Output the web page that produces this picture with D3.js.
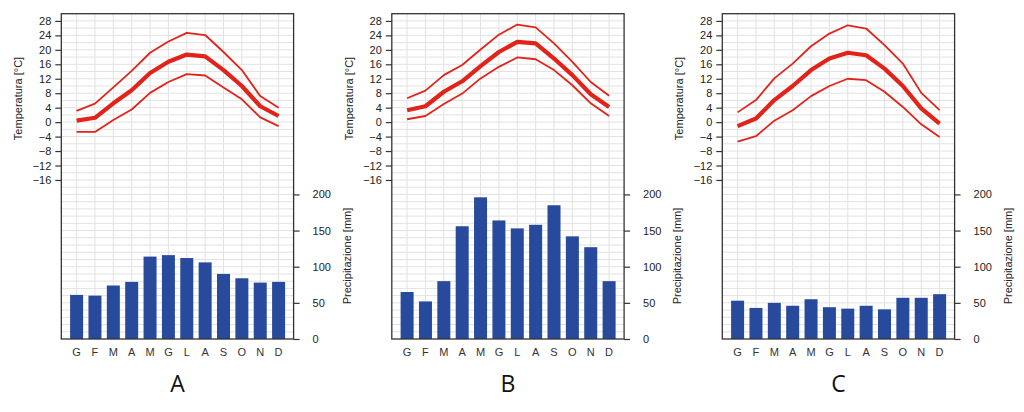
<!DOCTYPE html>
<html><head><meta charset="utf-8">
<script src="https://cdn.jsdelivr.net/npm/d3@7"></script>
<style>body{margin:0;background:#fff}svg{display:block}</style>
</head><body>
<svg id="c" width="1024" height="412"></svg>
<script>
const months = ["G","F","M","A","M","G","L","A","S","O","N","D"];
const panelLabels = ["A","B","C"];
const tempTicks = [-16,-12,-8,-4,0,4,8,12,16,20,24,28];
const precTicks = [0,50,100,150,200];

const tMaxA = [3.1,5.1,9.6,14.2,19.2,22.3,24.7,24.1,19.4,14.4,7.2,4.0];
const tMeanA = [0.4,1.2,5.2,8.8,13.6,16.7,18.7,18.2,14.4,10.0,4.4,1.7];
const tMinA = [-2.7,-2.7,0.6,3.5,8.1,11.1,13.3,12.9,9.6,6.3,1.3,-1.1];
const precA = [61,60,74,79,114,116,112,106,90,84,78,79];

const tMaxB = [6.6,8.7,13.0,15.8,20.1,24.2,27.0,26.2,21.8,16.7,11.1,7.3];
const tMeanB = [3.3,4.4,8.4,11.3,15.5,19.4,22.2,21.8,17.6,13.0,7.7,4.2];
const tMinB = [0.8,1.7,5.0,7.9,12.1,15.3,17.9,17.4,14.4,10.2,5.2,1.7];
const precB = [65,52,80,156,196,164,153,158,185,142,127,80];

const tMaxC = [2.7,6.1,12.1,16.2,21.0,24.5,26.8,25.9,21.3,16.2,8.1,3.3];
const tMeanC = [-1.1,1.0,6.1,10.0,14.4,17.6,19.2,18.5,14.8,10.0,3.8,-0.4];
const tMinC = [-5.4,-3.9,0.4,3.3,7.2,10.0,12.0,11.6,8.4,4.2,-0.6,-4.1];
const precC = [53,43,50,46,55,44,42,46,41,57,57,62];

const panels = [
  {tMax:tMaxA,tMean:tMeanA,tMin:tMinA,prec:precA},
  {tMax:tMaxB,tMean:tMeanB,tMin:tMinB,prec:precB},
  {tMax:tMaxC,tMean:tMeanC,tMin:tMinC,prec:precC}
];

const svg = d3.select("#c");
const font = "'Liberation Sans', Arial, sans-serif";
const yTop = 13.7, yBottom = 339, boxW = 232.3;
const red = "#e2231a", blue = "#274a9c";

panels.forEach((p, i) => {
  const x0 = 61.3 + i * 330.5, x1 = x0 + boxW;
  const g = svg.append("g");
  const x = d3.scalePoint().domain(d3.range(12)).range([x0 + 15.3, x1 - 15]);
  const yT = d3.scaleLinear().domain([-60, 30]).range([yBottom, yTop]);
  const yP = d3.scaleLinear().domain([0, 450]).range([yBottom, yTop]);

  // grid
  const gridVals = d3.range(-58, 30, 2);
  g.selectAll(".hg").data(gridVals).join("line")
    .attr("x1", x0).attr("x2", x1)
    .attr("y1", d => yT(d)).attr("y2", d => yT(d))
    .attr("stroke", "#e2e2e2").attr("stroke-width", 1);
  g.selectAll(".vg").data(d3.range(12)).join("line")
    .attr("x1", d => x(d)).attr("x2", d => x(d))
    .attr("y1", yTop).attr("y2", yBottom)
    .attr("stroke", "#e2e2e2").attr("stroke-width", 1);

  // bars
  const bw = 13;
  g.selectAll(".bar").data(p.prec).join("rect")
    .attr("x", (d, j) => x(j) - bw / 2).attr("width", bw)
    .attr("y", d => yP(d)).attr("height", d => yBottom - yP(d))
    .attr("fill", blue);

  // lines
  const line = d3.line().x((d, j) => x(j)).y(d => yT(d));
  [[p.tMax, 1.8], [p.tMin, 1.8], [p.tMean, 4.2]].forEach(([arr, w]) => {
    g.append("path").datum(arr).attr("d", line)
      .attr("fill", "none").attr("stroke", red)
      .attr("stroke-width", w).attr("stroke-linejoin", "round");
  });

  // box
  g.append("rect").attr("x", x0).attr("y", yTop).attr("width", boxW)
    .attr("height", yBottom - yTop).attr("fill", "none")
    .attr("stroke", "#333").attr("stroke-width", 1.3);

  // left axis (temperature)
  const la = g.append("g").attr("transform", `translate(${x0},0)`)
    .call(d3.axisLeft(yT).tickValues(tempTicks).tickSize(6).tickPadding(4)
      .tickFormat(d => d < 0 ? "\u2212" + Math.abs(d) : d));
  la.select(".domain").remove();
  la.selectAll("line").attr("stroke", "#333").attr("stroke-width", 1.2);
  la.selectAll("text").attr("font-family", font).attr("font-size", 11).attr("fill", "#222");

  // right axis (precip)
  const ra = g.append("g").attr("transform", `translate(${x1},0)`)
    .call(d3.axisRight(yP).tickValues(precTicks).tickSize(6).tickPadding(13));
  ra.select(".domain").remove();
  ra.selectAll("line").attr("stroke", "#333").attr("stroke-width", 1.2);
  ra.selectAll("text").attr("font-family", font).attr("font-size", 11).attr("fill", "#222");

  // axis titles
  g.append("text").attr("transform", `translate(${x0 - 43},98.5) rotate(-90)`)
    .attr("text-anchor", "middle").attr("dominant-baseline", "central")
    .attr("font-family", font).attr("font-size", 11).attr("fill", "#222")
    .text("Temperatura [°C]");
  g.append("text").attr("transform", `translate(${x1 + 53},256) rotate(-90)`)
    .attr("text-anchor", "middle").attr("dominant-baseline", "central")
    .attr("font-family", font).attr("font-size", 11).attr("fill", "#222")
    .text("Precipitazione [mm]");

  // month labels
  g.selectAll(".ml").data(months).join("text")
    .attr("x", (d, j) => x(j)).attr("y", 355.5)
    .attr("text-anchor", "middle").attr("font-family", font)
    .attr("font-size", 11).attr("fill", "#333").text(d => d);

  // panel label
  g.append("text").attr("x", (x0 + x1) / 2).attr("y", 391.5)
    .attr("text-anchor", "middle").attr("font-family", "'Open Sans', sans-serif")
    .attr("font-size", 23).attr("fill", "#111").text(panelLabels[i]);
});
</script>
</body></html>
